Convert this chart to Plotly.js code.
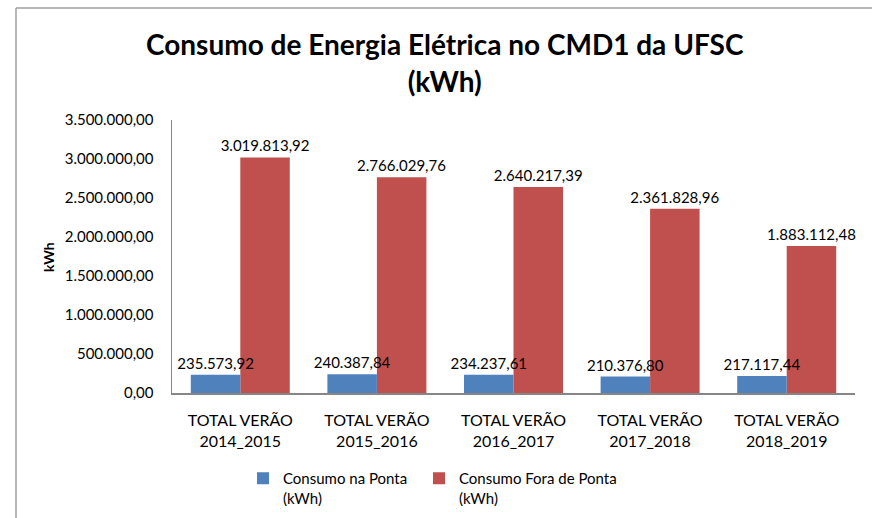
<!DOCTYPE html>
<html>
<head>
<meta charset="utf-8">
<script src="https://cdn.plot.ly/plotly-3.0.1.min.js"></script>
<style>
html,body{margin:0;padding:0;background:#fff;}
#chart{width:872px;height:518px;}
</style>
</head>
<body>
<div id="chart"></div>
<script>
const categories = [
  "TOTAL VERÃO<br>2014_2015",
  "TOTAL VERÃO<br>2015_2016",
  "TOTAL VERÃO<br>2016_2017",
  "TOTAL VERÃO<br>2017_2018",
  "TOTAL VERÃO<br>2018_2019"
];
const consumoPonta = [235573.92, 240387.84, 234237.61, 210376.80, 217117.44];
const consumoForaPonta = [3019813.92, 2766029.76, 2640217.39, 2361828.96, 1883112.48];
const seriesNames = ["Consumo na Ponta<br>(kWh)", "Consumo Fora de Ponta<br>(kWh)"];

const FONT = "Lato, 'Open Sans', sans-serif";
const W = 0.3624;

const red = {
  type: "bar", name: seriesNames[1], x: categories, y: consumoForaPonta,
  marker: {color: "#C0504D"},
  offset: 0, width: W,
  texttemplate: "%{y:,.2f}", textposition: "outside", constraintext: "none",
  cliponaxis: false,
  textfont: {family: FONT, size: 15, color: "#000"},
  legend: "legend2",
  hoverinfo: "skip"
};
const blue = {
  type: "bar", name: seriesNames[0], x: categories, y: consumoPonta,
  marker: {color: "#4F81BD"},
  offset: -W, width: W,
  texttemplate: "%{y:,.2f}", textposition: "outside", constraintext: "none",
  cliponaxis: false,
  textfont: {family: FONT, size: 15, color: "#000"},
  legend: "legend",
  hoverinfo: "skip"
};

const L = 172, R = 855, T = 120, B = 393;
const pw = R - L, ph = B - T;
const px = v => (v - L) / pw;
const py = v => (B - v) / ph;

const legendBase = {
  orientation: "h", xanchor: "left", yanchor: "top", valign: "top",
  font: {family: FONT, size: 15, color: "#000"},
  bgcolor: "rgba(0,0,0,0)"
};

const layout = {
  width: 872, height: 518,
  margin: {l: L, r: 872 - R, t: T, b: 518 - B, autoexpand: false},
  paper_bgcolor: "#fff", plot_bgcolor: "#fff",
  separators: ",.",
  barmode: "overlay",
  font: {family: FONT, size: 15, color: "#000"},
  title: {
    text: "<b>Consumo de Energia Elétrica no CMD1 da UFSC<br>(kWh)</b>",
    font: {family: FONT, size: 28, color: "#000"},
    x: 0.51, xanchor: "center", xref: "container",
    y: 0.893, yanchor: "top", yref: "container"
  },
  xaxis: {
    type: "category",
    showline: true, linecolor: "#868686", linewidth: 2,
    ticks: "", showgrid: false, zeroline: false,
    ticklabelstandoff: 12,
    tickfont: {family: FONT, size: 16, color: "#000"},
    fixedrange: true
  },
  yaxis: {
    range: [0, 3500000], dtick: 500000, tick0: 0,
    tickformat: ",.2f",
    showline: true, linecolor: "#868686", linewidth: 1.5,
    ticks: "", showgrid: false, zeroline: false,
    ticklabelstandoff: 14,
    tickfont: {family: FONT, size: 15, color: "#000"},
    fixedrange: true
  },
  showlegend: true,
  legend: Object.assign({}, legendBase, {x: px(243), y: py(462)}),
  legend2: Object.assign({}, legendBase, {x: px(419), y: py(462)}),
  annotations: [{
    text: "<b>kWh</b>", textangle: -90,
    xref: "paper", yref: "paper", x: px(48), y: py(257),
    xanchor: "center", yanchor: "middle", showarrow: false,
    font: {family: FONT, size: 14, color: "#000"}
  }],
  shapes: [
    {type: "line", xref: "paper", yref: "paper", x0: px(16), x1: px(16), y0: py(8), y1: py(530), line: {color: "#A0A0A0", width: 1.5}},
    {type: "line", xref: "paper", yref: "paper", x0: px(16), x1: px(880), y0: py(8), y1: py(8), line: {color: "#A0A0A0", width: 1.5}}
  ]
};

Plotly.newPlot("chart", [red, blue], layout, {displayModeBar: false, staticPlot: true});
</script>
</body>
</html>
